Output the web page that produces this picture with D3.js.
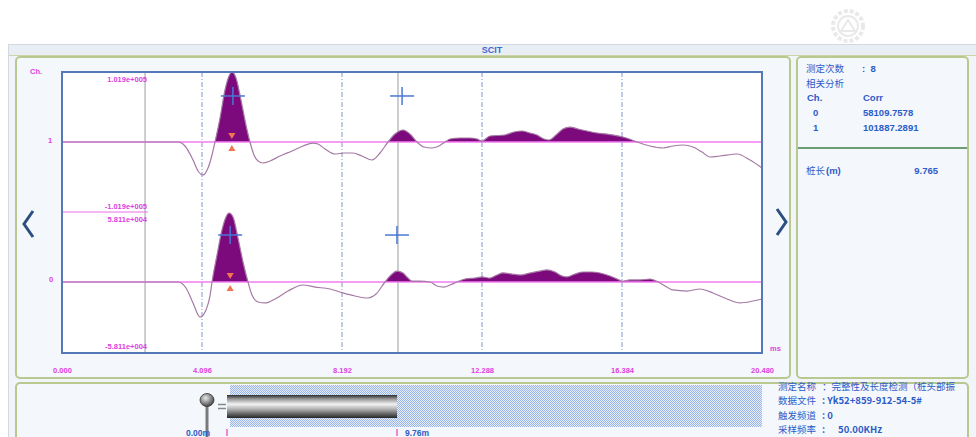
<!DOCTYPE html>
<html>
<head>
<meta charset="utf-8">
<script src="https://cdn.jsdelivr.net/npm/d3@7"></script>
<style>
  body { margin: 0; background: #fff; }
  svg { display: block; font-family: "Liberation Sans", Arial, sans-serif; }
  text { white-space: pre; }
</style>
</head>
<body>
<div id="chart"></div>
<script>
// ---- data ----
const xTicks = [0, 4.096, 8.192, 12.288, 16.384, 20.48];   // ms
const cursorTimes = [2.43, 9.83];                             // gray cursor lines (ms)
const ch1Range = 1.019e5;
const ch0Range = 5.811e4;

// channel 1 trace (upper)
const ch1Time = [0, 3.394, 3.599, 3.833, 3.979, 4.125, 4.272, 4.389, 4.476, 4.623, 4.769, 4.886, 4.974, 5.091, 5.237, 5.383, 5.5,
  5.617, 5.734, 5.881, 6.085, 6.378, 6.729, 7.051, 7.344, 7.49, 7.695, 7.987, 8.25, 8.514, 8.777, 9.07, 9.304, 9.538, 9.743,
  9.977, 10.181, 10.386, 10.591, 10.825, 11.03, 11.206, 11.352, 11.644, 11.937, 12.142, 12.288, 12.522, 12.961, 13.224,
  13.458, 13.692, 13.897, 14.102, 14.248, 14.453, 14.658, 14.863, 15.097, 15.36, 15.653, 15.945, 16.413, 16.677, 16.823,
  17.203, 17.583, 17.876, 18.169, 18.461, 18.725, 18.959, 19.251, 19.749, 20.129, 20.48];
const ch1Amp = [0, 0, -5800, -26200, -42200, -48000, -37800, -18900, 0, 34900, 75700, 96100, 101900, 93200, 61100, 24700, 0,
  -18900, -27700, -30600, -27700, -20400, -13100, -5800, -1500, -2900, -10200, -17500, -16000, -16000, -20400, -26200, -16000, 0, 11600,
  17500, 11600, 0, -7300, -8700, -5800, 0, 4400, 5800, 5800, 4400, 1500, 8700, 10200, 14600,
  16000, 13100, 10200, 4400, 2900, 10200, 18900, 21800, 18900, 16000, 13100, 11600, 7300, 2900, 0,
  -5800, -8700, -5800, -4400, -7300, -14600, -21800, -20400, -17500, -26200, -37800];

// channel 0 trace (lower)
const ch0Time = [0, 3.394, 3.628, 3.833, 4.037, 4.213, 4.33, 4.389, 4.535, 4.681, 4.798, 4.886, 5.003, 5.149, 5.296, 5.442,
  5.559, 5.734, 5.939, 6.232, 6.612, 7.051, 7.402, 7.841, 8.134, 8.572, 8.953, 9.187, 9.45, 9.626, 9.801, 9.977, 10.123,
  10.24, 10.474, 10.767, 10.971, 11.176, 11.352, 11.557, 11.79, 12.083, 12.288, 12.522, 12.727, 12.902, 13.166, 13.4,
  13.692, 13.985, 14.19, 14.424, 14.629, 14.775, 15.009, 15.243, 15.506, 15.74, 16.033, 16.238, 16.384, 16.618, 16.911,
  17.203, 17.496, 17.876, 18.286, 18.666, 19.046, 19.456, 19.836, 20.216, 20.48];
const ch0Amp = [0, 0, -5000, -17400, -29100, -23200, -11600, 0, 22400, 43200, 54000, 57300, 54000, 36500, 16600, 0,
  -10800, -16600, -17400, -14100, -7500, -2500, -4200, -5800, -8300, -11600, -13300, -10000, 0, 5800, 9100, 7500, 3300,
  800, 800, 0, -3300, -4200, -2500, 0, 2500, 3300, 4200, 3300, 5800, 7500, 6600, 5800,
  7500, 9100, 10000, 8300, 5000, 4200, 6600, 8300, 8300, 7500, 5000, 2500, 800, 1700, 1700,
  2500, -800, -6600, -7500, -5800, -9100, -14100, -17400, -15800, -14100];

// marks on the traces: [time ms, amplitude]
const ch1Crosses = [[5.0, 67000], [9.95, 67000]];
const ch0Crosses = [[4.92, 39000], [9.8, 39000]];
const peakTimes = [4.97, 4.92];   // ch1, ch0 triangles

const corrRows = [["0", "58109.7578"], ["1", "101887.2891"]];
const pileLength = 9.765;
const pileMarks = [0, 9.76];
const infoRows = [
  ["测定名称", "：完整性及长度检测（桩头部振"],
  ["数据文件", ": Yk52+859-912-54-5#"],
  ["触发频道", ": 0"],
  ["采样频率", ":      50.00KHz"]
];

// ---- drawing ----
const W = 976, H = 437;
const svg = d3.select("#chart").append("svg").attr("width", W).attr("height", H);
const defs = svg.append("defs");

const blueTxt = "#2d5cc8";
const magenta = "#e040e0";
const cjk = '"Noto Sans CJK SC", sans-serif';

// faint watermark gear, top right
const wm = svg.append("g").attr("transform", "translate(848,26)").attr("fill", "none").attr("stroke", "#e9e9e9");
wm.append("circle").attr("r", 15).attr("stroke-width", 4).attr("stroke-dasharray", "4 2");
wm.append("circle").attr("r", 10).attr("stroke-width", 2);
wm.append("path").attr("d", "M-7,5 L0,-6 L7,5 Z").attr("stroke-width", 2);

// window frame + title bar
svg.append("rect").attr("x", 8.5).attr("y", 44.5).attr("width", 975).attr("height", 400)
  .attr("fill", "#f1f4f9").attr("stroke", "#d3d9e3");
svg.append("rect").attr("x", 9).attr("y", 45).attr("width", 967).attr("height", 10).attr("fill", "#e9eef5");
svg.append("line").attr("x1", 9).attr("x2", 976).attr("y1", 55.5).attr("y2", 55.5).attr("stroke", "#cdd5a8");
svg.append("text").attr("x", 492).attr("y", 53).attr("text-anchor", "middle")
  .attr("font-size", 9).attr("font-weight", "bold").attr("fill", "#3a6ad0").text("SCIT");

// panels
const panel = (px, py, pw, ph) => svg.append("rect").attr("x", px).attr("y", py).attr("width", pw).attr("height", ph)
  .attr("rx", 4).attr("fill", "#f4f7fb").attr("stroke", "#b9c88e").attr("stroke-width", 2);
panel(16, 57, 774, 321);
panel(797, 57, 171, 321);
panel(16, 383, 952, 70);
svg.append("line").attr("x1", 798).attr("x2", 967).attr("y1", 148).attr("y2", 148)
  .attr("stroke", "#3f7f47").attr("stroke-width", 1.5);

// scales
const x = d3.scaleLinear().domain([0, 20.48]).range([62, 762]);
const y1 = d3.scaleLinear().domain([-ch1Range, ch1Range]).range([212, 72]);
const y0 = d3.scaleLinear().domain([-ch0Range, ch0Range]).range([352, 212]);
const plotTop = 72, plotBottom = 353;

svg.append("rect").attr("x", 62).attr("y", plotTop).attr("width", 700).attr("height", plotBottom - plotTop).attr("fill", "#fff");

// grid: dash-dot at tick times, gray solid cursors
const gridTimes = xTicks.slice(1, -1);
svg.append("g").selectAll("line").data(gridTimes).join("line")
  .attr("x1", d => x(d)).attr("x2", d => x(d)).attr("y1", plotTop).attr("y2", plotBottom)
  .attr("stroke", "#8496cc").attr("stroke-width", 1).attr("stroke-dasharray", "5 2 1 2");
svg.append("g").selectAll("line").data(cursorTimes).join("line")
  .attr("x1", d => x(d)).attr("x2", d => x(d)).attr("y1", plotTop).attr("y2", plotBottom)
  .attr("stroke", "#a9abb3").attr("stroke-width", 1.2);

// traces
function drawChannel(times, amps, y, idx) {
  const pts = times.map((t, i) => [t, amps[i]]);
  const base = y(0);
  const clipId = "clip" + idx;
  defs.append("clipPath").attr("id", clipId).append("rect")
    .attr("x", 62).attr("y", y.range()[1]).attr("width", 700).attr("height", base - y.range()[1]);
  const area = d3.area().x(d => x(d[0])).y0(base).y1(d => y(d[1])).curve(d3.curveMonotoneX);
  const line = d3.line().x(d => x(d[0])).y(d => y(d[1])).curve(d3.curveMonotoneX);
  svg.append("path").datum(pts).attr("d", area).attr("fill", "#7c0a7c").attr("clip-path", `url(#${clipId})`);
  svg.append("line").attr("x1", 62).attr("x2", 762).attr("y1", base).attr("y2", base)
    .attr("stroke", "#f27cf2").attr("stroke-width", 1.3);
  svg.append("path").datum(pts).attr("d", line).attr("fill", "none")
    .attr("stroke", "#a57aa5").attr("stroke-width", 1.2);
}
drawChannel(ch1Time, ch1Amp, y1, 1);
drawChannel(ch0Time, ch0Amp, y0, 0);

// small magenta divider between channels
svg.append("line").attr("x1", 62).attr("x2", 148).attr("y1", 212).attr("y2", 212)
  .attr("stroke", "#e870e8").attr("stroke-width", 1);

// crosses
function crosses(data, y) {
  const g = svg.append("g").attr("stroke", "#4a78d4").attr("stroke-width", 1.5);
  data.forEach(([t, v]) => {
    g.append("line").attr("x1", x(t) - 12).attr("x2", x(t) + 12).attr("y1", y(v)).attr("y2", y(v));
    g.append("line").attr("x1", x(t)).attr("x2", x(t)).attr("y1", y(v) - 9).attr("y2", y(v) + 9);
  });
}
crosses(ch1Crosses, y1);
crosses(ch0Crosses, y0);

// triangles around the first peak
[[peakTimes[0], y1], [peakTimes[1], y0]].forEach(([t, y]) => {
  const tri = d3.symbol(d3.symbolTriangle, 22);
  svg.append("path").attr("d", tri).attr("fill", "#f27550")
    .attr("transform", `translate(${x(t)},${y(0) - 7}) rotate(180)`);
  svg.append("path").attr("d", tri).attr("fill", "#f27550")
    .attr("transform", `translate(${x(t)},${y(0) + 7})`);
});

// plot border
svg.append("rect").attr("x", 62).attr("y", plotTop).attr("width", 700).attr("height", plotBottom - plotTop)
  .attr("fill", "none").attr("stroke", "#5478b8").attr("stroke-width", 2);

// x axis labels
const xAxis = svg.append("g").attr("transform", `translate(0,${plotBottom})`)
  .call(d3.axisBottom(x).tickValues(xTicks).tickFormat(d3.format(".3f")).tickSize(0).tickPadding(15));
xAxis.select(".domain").remove();
xAxis.selectAll("text").attr("fill", magenta).attr("font-size", 7.5).attr("font-weight", "bold")
  .attr("font-family", '"Liberation Sans", Arial, sans-serif');
svg.append("text").attr("x", 770).attr("y", 351).attr("font-size", 7.5).attr("font-weight", "bold")
  .attr("fill", magenta).text("ms");

// channel labels and ranges
const lab = (tx, ty, s, anchor) => svg.append("text").attr("x", tx).attr("y", ty).attr("text-anchor", anchor || "start")
  .attr("font-size", 7.5).attr("font-weight", "bold").attr("fill", magenta).text(s);
lab(30, 74, "Ch.");
lab(48, 143, "1");
lab(49, 282, "0");
const sci = d => d3.format(".3e")(d).replace("\u2212", "-").replace(/e([+-])(\d+)/, (m, s, e) => "e" + s + e.padStart(3, "0"));
lab(147, 82, sci(ch1Range), "end");
lab(147, 209, sci(-ch1Range), "end");
lab(147, 222, sci(ch0Range), "end");
lab(147, 349, sci(-ch0Range), "end");

// navigation chevrons
svg.append("path").attr("d", "M33,211 L24,224 L33,237").attr("fill", "none")
  .attr("stroke", "#2b4f80").attr("stroke-width", 3);
svg.append("path").attr("d", "M777,209 L786,222 L777,235").attr("fill", "none")
  .attr("stroke", "#2b4f80").attr("stroke-width", 3);

// right info panel
const rp = svg.append("g").attr("fill", blueTxt).attr("font-size", 9.5).attr("font-weight", "bold");
rp.append("text").attr("x", 806).attr("y", 72).attr("font-family", cjk).attr("font-size", 9.5).attr("font-weight", "normal").text("测定次数");
rp.append("text").attr("x", 862).attr("y", 72).text(":  8");
rp.append("text").attr("x", 806).attr("y", 87).attr("font-family", cjk).attr("font-size", 9.5).attr("font-weight", "normal").text("相关分析");
rp.append("text").attr("x", 807).attr("y", 101).text("Ch.");
rp.append("text").attr("x", 863).attr("y", 101).text("Corr");
corrRows.forEach((r, i) => {
  rp.append("text").attr("x", 813).attr("y", 116 + i * 14.5).text(r[0]);
  rp.append("text").attr("x", 863).attr("y", 116 + i * 14.5).text(r[1]);
});
rp.append("text").attr("x", 806).attr("y", 174).attr("font-family", cjk).attr("font-size", 9.5).attr("font-weight", "normal").text("桩长");
rp.append("text").attr("x", 826).attr("y", 174).text("(m)");
rp.append("text").attr("x", 938).attr("y", 174).attr("text-anchor", "end").text(pileLength.toFixed(3));

// pile sketch (bottom panel)
const pat = defs.append("pattern").attr("id", "hatch").attr("width", 2).attr("height", 2)
  .attr("patternUnits", "userSpaceOnUse");
pat.append("rect").attr("width", 2).attr("height", 2).attr("fill", "#e6edfa");
pat.append("rect").attr("width", 1).attr("height", 1).attr("fill", "#9bb6e6");
pat.append("rect").attr("x", 1).attr("y", 1).attr("width", 1).attr("height", 1).attr("fill", "#9bb6e6");
svg.append("rect").attr("x", 230).attr("y", 385).attr("width", 532).attr("height", 42).attr("fill", "url(#hatch)");

const pileX = d3.scaleLinear().domain([0, pileMarks[1]]).range([227, 397]);
const grad = defs.append("linearGradient").attr("id", "pileGrad").attr("x1", 0).attr("x2", 0).attr("y1", 0).attr("y2", 1);
[[0, "#2e2e2e"], [0.18, "#9a9a9a"], [0.4, "#f2f2f2"], [0.62, "#b0b0b0"], [0.85, "#5a5a5a"], [1, "#262626"]]
  .forEach(([o, c]) => grad.append("stop").attr("offset", o).attr("stop-color", c));
svg.append("rect").attr("x", pileX(0)).attr("y", 395).attr("width", pileX(pileMarks[1]) - pileX(0)).attr("height", 23)
  .attr("fill", "url(#pileGrad)");

const ball = defs.append("radialGradient").attr("id", "ballGrad").attr("cx", 0.4).attr("cy", 0.35).attr("r", 0.7);
ball.append("stop").attr("offset", 0).attr("stop-color", "#e8e8e8");
ball.append("stop").attr("offset", 1).attr("stop-color", "#3c3c3c");
svg.append("line").attr("x1", 207).attr("x2", 207).attr("y1", 404).attr("y2", 437)
  .attr("stroke", "#7b7b7b").attr("stroke-width", 3);
svg.append("ellipse").attr("cx", 207).attr("cy", 400).attr("rx", 7).attr("ry", 6.5)
  .attr("fill", "url(#ballGrad)").attr("stroke", "#333").attr("stroke-width", 0.8);
svg.append("line").attr("x1", 218).attr("x2", 226).attr("y1", 404.5).attr("y2", 404.5).attr("stroke", "#888").attr("stroke-width", 1.5);
svg.append("line").attr("x1", 218).attr("x2", 226).attr("y1", 408.5).attr("y2", 408.5).attr("stroke", "#888").attr("stroke-width", 1.5);

svg.append("g").selectAll("line").data(pileMarks).join("line")
  .attr("x1", d => pileX(d)).attr("x2", d => pileX(d)).attr("y1", 429).attr("y2", 436)
  .attr("stroke", "#e040c0").attr("stroke-width", 1.2);
svg.append("text").attr("x", 186).attr("y", 435.5).attr("font-size", 8.5).attr("font-weight", "bold")
  .attr("fill", blueTxt).text(pileMarks[0].toFixed(2) + "m");
svg.append("text").attr("x", 405).attr("y", 435.5).attr("font-size", 8.5).attr("font-weight", "bold")
  .attr("fill", blueTxt).text(pileMarks[1].toFixed(2) + "m");

// bottom-right info text
infoRows.forEach((r, i) => {
  const yy = 390 + i * 14.3;
  svg.append("text").attr("x", 778).attr("y", yy).attr("font-family", cjk).attr("font-size", 9.5)
    .attr("fill", blueTxt).text(r[0]);
  svg.append("text").attr("x", 822).attr("y", yy).attr("font-family", cjk).attr("font-size", 9.5)
    .attr("font-weight", i === 0 ? "normal" : "bold").attr("fill", blueTxt).text(r[1]);
});
</script>
</body>
</html>
